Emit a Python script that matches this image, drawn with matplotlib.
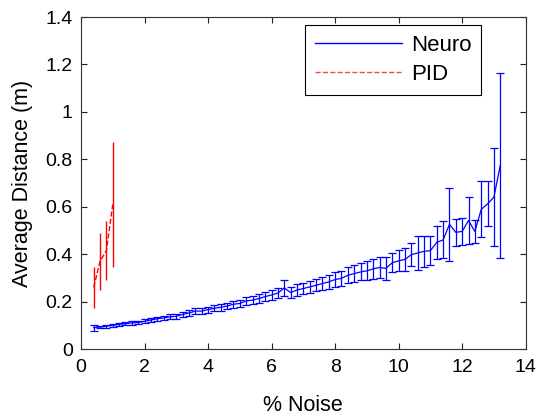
import matplotlib
matplotlib.use("Agg")
import matplotlib.pyplot as plt
from matplotlib.lines import Line2D

plt.rcParams['font.family'] = ['Liberation Sans', 'DejaVu Sans']

# Neuro controller: noise level (%), mean distance (m), error half-width (m)
neuro_x = [0.4, 0.6, 0.8, 1.0, 1.2, 1.4, 1.6, 1.8, 2.0, 2.2, 2.4, 2.6, 2.8,
           3.0, 3.2, 3.4, 3.6, 3.8, 4.0, 4.2, 4.4, 4.6, 4.8, 5.0, 5.2, 5.4,
           5.6, 5.8, 6.0, 6.2, 6.4, 6.6, 6.8, 7.0, 7.2, 7.4, 7.6, 7.8, 8.0,
           8.2, 8.4, 8.6, 8.8, 9.0, 9.2, 9.4, 9.6, 9.8, 10.0, 10.2, 10.4,
           10.6, 10.8, 11.0, 11.2, 11.4, 11.6, 11.8, 12.0, 12.2, 12.4, 12.6,
           12.8, 13.0, 13.2]
neuro_mean = [0.090, 0.093, 0.096, 0.100, 0.104, 0.107, 0.110, 0.112, 0.117,
              0.122, 0.128, 0.131, 0.136, 0.138, 0.146, 0.152, 0.160, 0.160,
              0.166, 0.172, 0.176, 0.181, 0.189, 0.192, 0.203, 0.206, 0.213,
              0.221, 0.228, 0.236, 0.258, 0.238, 0.249, 0.255, 0.262, 0.269,
              0.276, 0.283, 0.293, 0.298, 0.311, 0.318, 0.325, 0.330, 0.338,
              0.344, 0.340, 0.364, 0.372, 0.378, 0.398, 0.405, 0.412, 0.415,
              0.450, 0.460, 0.526, 0.492, 0.496, 0.542, 0.496, 0.589, 0.612,
              0.641, 0.775]
neuro_err = [0.012, 0.006, 0.006, 0.006, 0.006, 0.006, 0.007, 0.007, 0.008,
             0.008, 0.009, 0.009, 0.010, 0.010, 0.012, 0.012, 0.014, 0.012,
             0.013, 0.013, 0.014, 0.014, 0.015, 0.016, 0.018, 0.017, 0.018,
             0.019, 0.020, 0.022, 0.035, 0.022, 0.024, 0.025, 0.026, 0.026,
             0.028, 0.028, 0.030, 0.032, 0.034, 0.036, 0.036, 0.040, 0.042,
             0.044, 0.050, 0.040, 0.045, 0.048, 0.049, 0.070, 0.066, 0.060,
             0.070, 0.078, 0.153, 0.058, 0.058, 0.100, 0.050, 0.118, 0.095,
             0.205, 0.391]

# PID controller
pid_x = [0.4, 0.6, 0.8, 1.0]
pid_mean = [0.26, 0.37, 0.415, 0.61]
pid_err = [0.088, 0.12, 0.124, 0.265]

fig = plt.figure(figsize=(5.4, 4.16), dpi=100)
ax = fig.add_axes([0.15, 0.161, 0.8235, 0.798])

ax.errorbar(neuro_x, neuro_mean, yerr=neuro_err, color='#0000ff', lw=0.9,
            elinewidth=0.9, capsize=2.9, capthick=0.9)
ax.errorbar(pid_x, pid_mean, yerr=pid_err, color='#ff0000', lw=1.0,
            ls='--', elinewidth=1.0, capsize=0)

ax.set_xlim(0, 14)
ax.set_ylim(0, 1.4)
ax.set_xticks([0, 2, 4, 6, 8, 10, 12, 14])
ax.set_xticklabels(['0', '2', '4', '6', '8', '10', '12', '14'])
ax.set_yticks([0, 0.2, 0.4, 0.6, 0.8, 1.0, 1.2, 1.4])
ax.set_yticklabels(['0', '0.2', '0.4', '0.6', '0.8', '1', '1.2', '1.4'])
ax.tick_params(direction='in', top=True, right=True, length=4, width=0.8,
               labelsize=14, colors='#222222', labelcolor='black')
ax.tick_params(axis='x', pad=7)
ax.tick_params(axis='y', pad=6)
for s in ax.spines.values():
    s.set_linewidth(0.8)
    s.set_color('#333333')

ax.set_xlabel('% Noise', fontsize=15.5, labelpad=14)
ax.set_ylabel('Average Distance (m)', fontsize=15.5, labelpad=9)

handles = [Line2D([], [], color='#0000ff', lw=1.0),
           Line2D([], [], color='#ff4444', lw=1.0, ls='--')]
leg = ax.legend(handles, ['Neuro', 'PID'], loc='upper right',
                bbox_to_anchor=(0.9, 0.976), fontsize=16, handlelength=3.9,
                handletextpad=0.4, borderpad=0.45, labelspacing=0.35,
                fancybox=False, framealpha=1, borderaxespad=0)
leg.get_frame().set_edgecolor('black')
leg.get_frame().set_linewidth(0.8)

fig.savefig('out.png', dpi=100)
